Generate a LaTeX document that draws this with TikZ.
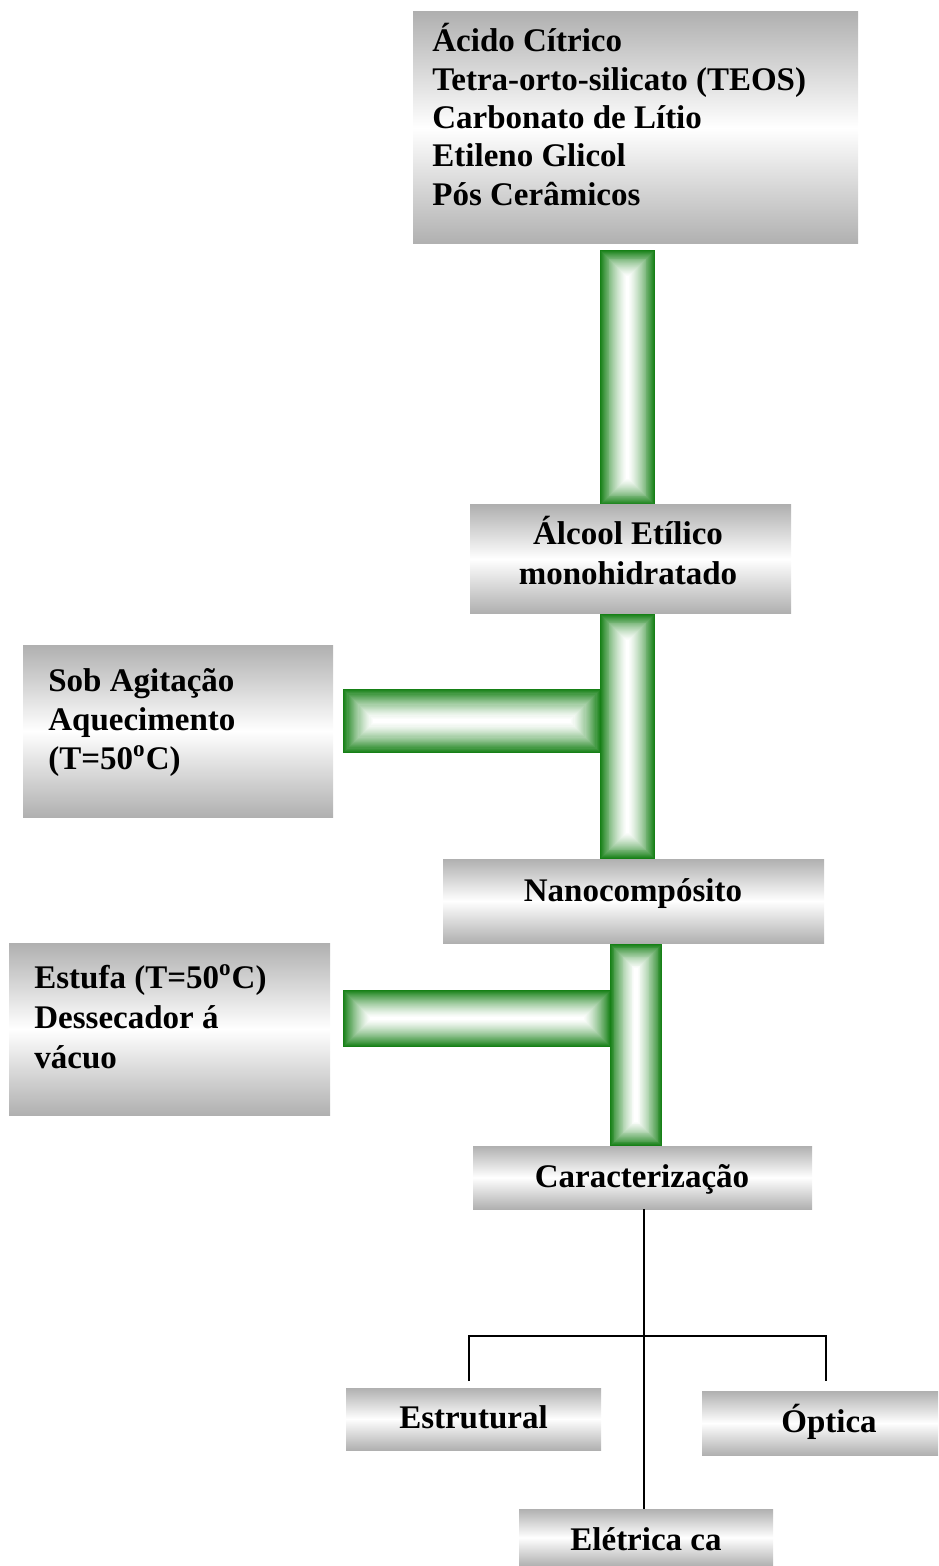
\documentclass[tikz,border=0pt]{standalone}
\usepackage{fontspec}
\setmainfont{Liberation Serif}
\usetikzlibrary{fit}
\definecolor{bargreen}{RGB}{22,128,22}
\definecolor{boxgray}{RGB}{176,176,176}
\newcommand{\gbar}[4]{%
  \pgfmathsetmacro{\ghw}{min(#3-#1,#4-#2)/2}%
  \foreach \gi in {0,...,28}{%
    \pgfmathsetmacro{\gd}{\ghw*\gi/29}%
    \pgfmathtruncatemacro{\gp}{100*(1-\gi/28)^1.4}%
    \fill[bargreen!\gp!white] (#1+\gd,#2+\gd) rectangle (#3-\gd,#4-\gd);
  }%
}
\newcommand{\Lleft}[2]{\vtop{\baselineskip=#1\halign{##\hfil\cr#2\crcr}}}
\newcommand{\Lcenter}[2]{\vtop{\baselineskip=#1\halign{\hfil##\hfil\cr#2\crcr}}}
\begin{document}
\begin{tikzpicture}[x=0.5pt, y=-0.5pt,
  gbox/.style={inner sep=0pt, draw=none, top color=boxgray, bottom color=boxgray, middle color=white},
  txt/.style={font=\fontsize{16.5}{19.5}\selectfont\bfseries, inner sep=0pt},
  conn/.style={draw=black, line width=0.6pt}]
\useasboundingbox (0,0) rectangle (938,1566);

% green connector bars
\gbar{600}{250}{655}{505}
\gbar{343}{689}{601}{753}
\gbar{600}{614}{655}{859}
\gbar{343}{990}{611}{1047}
\gbar{610}{944}{662}{1146}

% boxes
\node[gbox, fit={(413,12) (858,244)}] (top) {};
\node[gbox, fit={(470,505) (791,613)}] (alc) {};
\node[gbox, fit={(23,645) (333,817)}] (sob) {};
\node[gbox, fit={(443,859) (824,943)}] (nano) {};
\node[gbox, fit={(9,943) (330,1115)}] (est) {};
\node[gbox, fit={(473,1146) (812,1209)}] (car) {};
\node[gbox, fit={(346,1388) (601,1450)}] (estr) {};
\node[gbox, fit={(702,1391) (938,1455)}] (opt) {};
\node[gbox, fit={(519,1509) (773,1566)}] (ele) {};

% texts
\node[txt, anchor=base west] (top-t) at (432,52)
  {\Lleft{19.15pt}{Ácido Cítrico\cr Tetra-orto-silicato (TEOS)\cr Carbonato de Lítio\cr Etileno Glicol\cr Pós Cerâmicos}};
\node[txt, anchor=base] (alc-t) at (628,545)
  {\Lcenter{20pt}{Álcool Etílico\cr monohidratado}};
\node[txt, anchor=base west] (sob-t) at (48,691)
  {\Lleft{19.5pt}{Sob Agitação\cr Aquecimento\cr (T=50\textsuperscript{o}C)}};
\node[txt, anchor=base] (nano-t) at (633,901) {Nanocompósito};
\node[txt, anchor=base west] (est-t) at (34,988)
  {\Lleft{20pt}{Estufa (T=50\textsuperscript{o}C)\cr Dessecador á\cr vácuo}};
\node[txt, anchor=base] (car-t) at (642,1187) {Caracterização};
\node[txt, anchor=base] (estr-t) at (473.5,1428) {Estrutural};
\node[txt, anchor=base] (opt-t) at (829,1432) {Óptica};
\node[txt, anchor=base] (ele-t) at (646,1550) {Elétrica ca};

% thin connectors
\coordinate (jn) at (644,1336);
\coordinate (dl) at (469,1381);
\coordinate (dr) at (826,1381);
\draw[conn] (car.south -| jn) -- (jn |- ele.north);
\draw[conn] (dl) |- (jn) -| (dr);
\end{tikzpicture}
\end{document}
